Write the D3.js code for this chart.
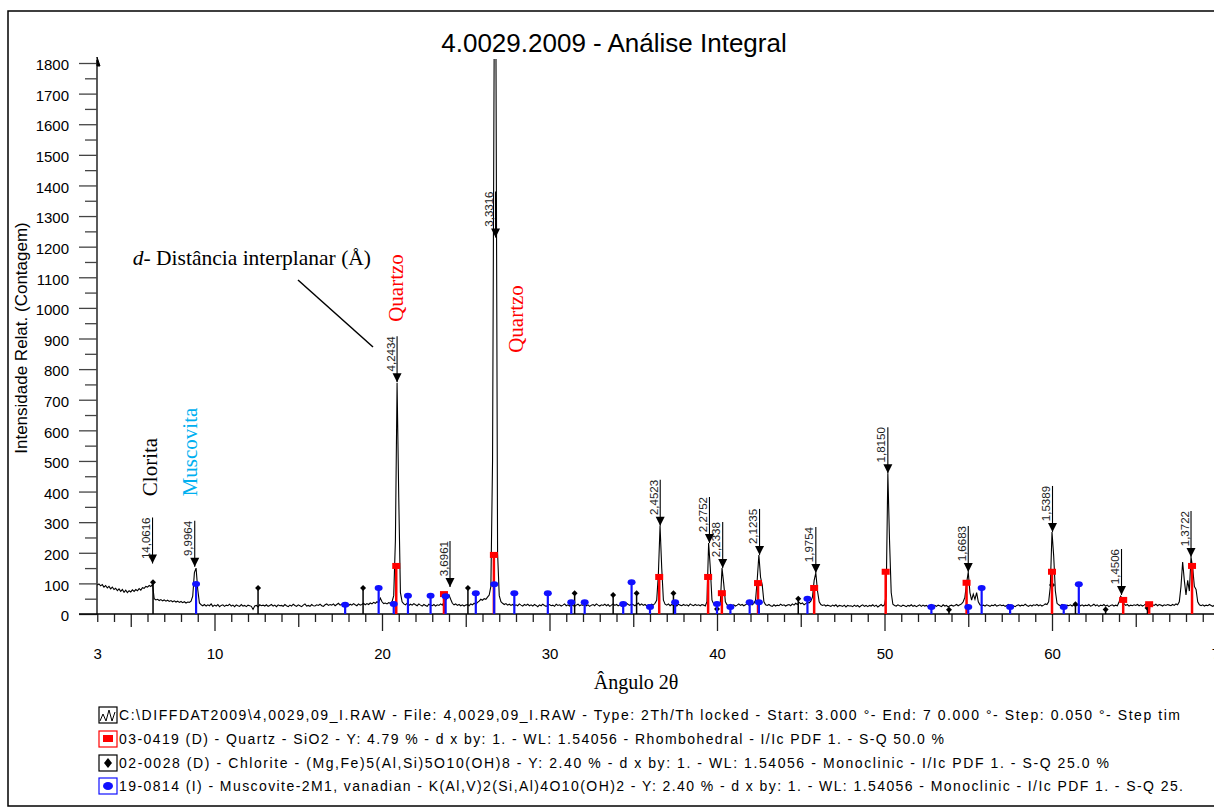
<!DOCTYPE html>
<html><head><meta charset="utf-8">
<script src="https://cdn.jsdelivr.net/npm/d3@7"></script>
<style>body{margin:0;background:#fff}svg{display:block}</style>
</head><body><svg id="c" width="1214" height="812"></svg>
<script>
// ---- DATA ----
const scanStart = 3.0, scanStep = 0.1;
const counts = [
/*3*/ 95,98,92,96,88,93,85,90,82,88,
/*4*/ 80,84,76,82,74,80,71,78,70,76,
/*5*/ 72,79,74,80,76,83,78,86,84,90,
/*6*/ 88,93,90,97,50,46,48,44,47,43,
/*7*/ 46,42,45,41,44,40,43,39,42,38,
/*8*/ 41,37,40,36,39,38,42,58,135,150,
/*9*/ 80,36,30,27,31,26,30,27,33,25,
/*10*/ 29,26,31,24,28,30,25,29,27,32,
/*11*/ 26,29,24,30,27,25,31,26,28,24,
/*12*/ 29,27,25,15,26,28,23,30,27,29,
/*13*/ 26,30,25,28,31,26,29,24,30,27,
/*14*/ 28,25,31,27,24,29,26,32,28,25,
/*15*/ 30,27,24,29,33,26,28,25,31,27,
/*16*/ 26,30,28,32,27,25,30,33,28,31,
/*17*/ 29,33,27,31,35,29,32,28,34,31,
/*18*/ 27,32,29,34,30,27,33,29,31,35,
/*19*/ 30,34,31,36,33,38,35,40,37,52,
/*20*/ 40,34,36,33,37,35,40,60,240,755,
/*21*/ 380,70,40,33,30,35,28,32,29,34,
/*22*/ 30,27,33,29,26,31,28,25,32,29,
/*23*/ 27,31,26,30,28,33,29,38,45,52,
/*24*/ 62,48,35,30,33,28,31,27,30,26,
/*25*/ 29,31,27,33,30,35,32,38,42,48,
/*26*/ 45,50,48,55,62,90,500,1900,1900,200,
/*27*/ 60,40,35,31,34,29,32,28,31,27,
/*28*/ 30,27,33,29,26,31,28,32,27,30,
/*29*/ 26,31,28,24,30,27,32,28,25,29,
/*30*/ 31,27,29,25,32,28,30,26,29,33,
/*31*/ 27,30,26,31,28,25,29,32,27,30,
/*32*/ 28,33,27,30,25,29,31,27,33,29,
/*33*/ 26,30,28,32,27,31,25,29,33,28,
/*34*/ 31,27,30,26,32,29,35,31,28,33,
/*35*/ 30,27,31,36,29,33,28,31,27,30,
/*36*/ 28,32,29,35,45,130,288,150,45,32,
/*37*/ 29,33,27,31,28,30,26,32,29,27,
/*38*/ 31,28,30,26,33,29,27,31,28,30,
/*39*/ 27,31,29,26,40,232,150,45,33,30,
/*40*/ 28,32,38,150,100,40,30,27,31,28,
/*41*/ 30,26,29,33,28,31,27,30,34,29,
/*42*/ 32,30,35,45,110,193,120,95,40,30,
/*43*/ 28,31,27,25,30,26,29,27,32,28,
/*44*/ 30,26,29,31,27,33,29,35,31,38,
/*45*/ 33,36,30,34,38,36,42,55,110,134,
/*46*/ 75,40,31,28,30,26,29,27,25,29,
/*47*/ 26,30,24,28,27,25,29,23,28,26,
/*48*/ 27,24,29,25,28,23,27,30,25,28,
/*49*/ 24,28,26,30,25,29,23,27,31,26,
/*50*/ 30,60,460,240,70,32,28,26,30,27,
/*51*/ 25,29,27,24,28,26,30,25,28,24,
/*52*/ 27,30,25,29,26,28,24,27,31,26,
/*53*/ 28,25,29,27,24,30,26,28,23,27,
/*54*/ 29,26,28,31,27,30,33,40,55,100,
/*55*/ 137,70,45,65,48,70,40,30,27,29,
/*56*/ 26,30,28,25,29,27,31,26,28,30,
/*57*/ 27,29,25,28,31,26,29,27,24,28,
/*58*/ 30,26,29,27,32,28,25,29,26,30,
/*59*/ 28,31,27,30,26,29,33,31,40,90,
/*60*/ 268,190,75,35,30,27,31,28,25,29,
/*61*/ 27,30,26,29,33,28,31,27,30,26,
/*62*/ 29,27,31,26,28,32,27,30,25,29,
/*63*/ 27,31,26,29,24,28,30,26,29,27,
/*64*/ 38,58,50,33,28,31,26,29,27,30,
/*65*/ 28,31,27,30,26,29,33,28,31,35,
/*66*/ 30,28,32,27,31,29,26,30,28,31,
/*67*/ 29,27,31,28,33,30,40,90,170,110,
/*68*/ 62,110,75,186,150,90,80,40,30,27,
/*69*/ 30,26,29,27,31,28,25,29,26,30,
/*70*/ 28
];

// reference pattern sticks [2theta, counts]
const quartzSticks = [[20.85,157],[23.7,65],[26.68,193],[36.55,121],[39.47,121],[40.29,68],[42.45,101],[45.8,85],[50.07,138],[54.9,102],[60.0,138],[64.25,46],[65.8,32],[68.36,157]];
const chloriteSticks = [[6.33,104],[12.6,85],[18.87,85],[25.13,85],[31.5,68],[33.8,62],[35.2,68],[37.4,68],[40.0,16],[44.85,50],[53.85,14],[60.0,95],[61.4,32],[63.2,15],[65.7,20]];
const muscoviteSticks = [[8.9,98],[17.8,30],[19.8,85],[20.7,33],[21.55,60],[22.9,60],[23.8,58],[25.6,68],[26.7,97],[27.9,68],[29.9,68],[31.3,38],[32.1,38],[34.4,33],[34.9,104],[36.0,23],[37.5,38],[40.0,33],[40.8,23],[41.95,38],[42.5,38],[45.4,50],[52.8,23],[55.0,23],[55.8,85],[57.5,23],[60.7,23],[61.6,97]];

// d-spacing peak labels: [label, 2theta, arrow tip counts]
const dLabels = [["14,0616",6.3,165],["9,9964",8.82,154],["4,2434",20.9,757],["3,6961",24.06,88],["3,3316",26.78,1230],["2,4523",36.61,288],["2,2752",39.55,232],["2,2338",40.34,150],["2,1235",42.54,193],["1,9754",45.9,134],["1,8150",50.2,460],["1,6683",55.0,137],["1,5389",60.03,268],["1,4506",64.15,62],["1,3722",68.3,186]];

const yTicks = d3.range(0, 1801, 100);
const yMinor = d3.range(50, 1800, 100);
const xLabelTicks = [3,10,20,30,40,50,60,70];

const title = "4.0029.2009 - Análise Integral";
const yTitle = "Intensidade Relat. (Contagem)";
const xTitle = "Ângulo 2θ";
const legendRows = [
  "C:\\DIFFDAT2009\\4,0029,09_I.RAW - File: 4,0029,09_I.RAW - Type: 2Th/Th locked - Start: 3.000 °- End: 7 0.000 °- Step: 0.050 °- Step tim",
  "03-0419 (D) - Quartz - SiO2 - Y: 4.79 % - d x by: 1. - WL: 1.54056 - Rhombohedral - I/Ic PDF 1. - S-Q 50.0 %",
  "02-0028 (D) - Chlorite - (Mg,Fe)5(Al,Si)5O10(OH)8 - Y: 2.40 % - d x by: 1. - WL: 1.54056 - Monoclinic - I/Ic PDF 1. - S-Q 25.0 %",
  "19-0814 (I) - Muscovite-2M1, vanadian - K(Al,V)2(Si,Al)4O10(OH)2 - Y: 2.40 % - d x by: 1. - WL: 1.54056 - Monoclinic - I/Ic PDF 1. - S-Q 25."
];
const legendWidths = [1061, 825, 990, 1064];

// ---- DRAW ----
const svg = d3.select('#c');
const x = d3.scaleLinear().domain([3, 70]).range([97.25, 1219.5]);
const y = d3.scaleLinear().domain([0, 1800]).range([614, 63]);
const RED = "#ff0000", BLUE = "#1010ff";

svg.append("rect").attr("x", 8).attr("y", 11).attr("width", 1240).attr("height", 795)
  .attr("fill", "none").attr("stroke", "#000").attr("stroke-width", 1.5);

svg.append("text").attr("x", 614).attr("y", 52).attr("text-anchor", "middle")
  .attr("font-family", "Liberation Sans, Arial, sans-serif").attr("font-size", 26).text(title);

// Y axis
const fontSans = "Liberation Sans, Arial, sans-serif";
const yAx = svg.append("g").attr("transform", "translate(97,0)")
  .call(d3.axisLeft(y).tickValues(yTicks).tickSize(18).tickPadding(10).tickFormat(d3.format("d")));
yAx.selectAll("text").attr("font-family", fontSans).attr("font-size", 15).attr("fill", "#000").attr("dy", "0.45em");
yAx.selectAll(".tick line").attr("stroke", "#444").attr("stroke-width", 1.3);
yAx.select(".domain").attr("stroke", "#000").attr("stroke-width", 1.3).attr("d", `M0,${y(0)}V${y(1800) - 3}`);
const yMin = svg.append("g").attr("transform", "translate(97,0)")
  .call(d3.axisLeft(y).tickValues(yMinor).tickSize(12).tickFormat(""));
yMin.select(".domain").remove();
yMin.selectAll(".tick line").attr("stroke", "#444").attr("stroke-width", 1.3);
svg.append("path").attr("d", `M97,${y(1800) - 6}L100,${y(1800) + 3}L97,${y(1800) + 3}Z`).attr("fill", "#000").attr("stroke", "#000");

// X axis
function xAxisLayer(vals, size) {
  const g = svg.append("g").attr("transform", `translate(0,${y(0)})`)
    .call(d3.axisBottom(x).tickValues(vals).tickSize(size).tickFormat(""));
  g.select(".domain").remove();
  g.selectAll(".tick line").attr("stroke", "#222").attr("stroke-width", 1.3);
}
xAxisLayer(d3.range(3, 71, 1).filter(v => v % 5 !== 0), 8);
xAxisLayer(d3.range(5, 71, 10), 13);
xAxisLayer(d3.range(10, 71, 10), 17);
const xl = svg.append("g").attr("transform", `translate(0,${y(0)})`)
  .call(d3.axisBottom(x).tickValues(xLabelTicks).tickSize(0).tickPadding(34).tickFormat(d3.format("d")));
xl.select(".domain").remove();
xl.selectAll("text").attr("font-family", fontSans).attr("font-size", 15).attr("fill", "#000");
svg.append("line").attr("x1", 79).attr("x2", 1219.5).attr("y1", y(0)).attr("y2", y(0))
  .attr("stroke", "#000").attr("stroke-width", 1.3);

// Pattern
svg.append("clipPath").attr("id", "pc").append("rect").attr("x", 97).attr("y", 59).attr("width", 1130).attr("height", 560);
const line = d3.line().x((d, i) => x(scanStart + i * scanStep)).y(d => y(d));
svg.append("path").datum(counts).attr("d", line).attr("clip-path", "url(#pc)")
  .attr("fill", "none").attr("stroke", "#000").attr("stroke-width", 1.1).attr("stroke-linejoin", "miter");

// Sticks
function sticks(data, color, w, marker) {
  const g = svg.append("g");
  g.selectAll("line").data(data).join("line")
    .attr("x1", d => x(d[0])).attr("x2", d => x(d[0]))
    .attr("y1", y(0)).attr("y2", d => y(d[1]))
    .attr("stroke", color).attr("stroke-width", w);
  marker(g.selectAll("m").data(data).enter());
}
sticks(chloriteSticks, "#000", 1.5, s => s.append("path")
  .attr("d", d => `M${x(d[0])},${y(d[1]) - 3}l3,3l-3,3l-3,-3z`).attr("fill", "#000"));
sticks(quartzSticks, RED, 2.5, s => s.append("rect")
  .attr("x", d => x(d[0]) - 4).attr("y", d => y(d[1]) - 3).attr("width", 8).attr("height", 6).attr("fill", RED));
sticks(muscoviteSticks, BLUE, 2.2, s => s.append("ellipse")
  .attr("cx", d => x(d[0])).attr("cy", d => y(d[1])).attr("rx", 4).attr("ry", 3).attr("fill", BLUE));

// d-spacing arrows
const arrowLen = 46;
const ag = svg.append("g");
dLabels.forEach(([lab, a, h]) => {
  const px = x(a), tip = y(h), top = tip - arrowLen;
  ag.append("line").attr("x1", px).attr("x2", px).attr("y1", top).attr("y2", tip)
    .attr("stroke", "#000").attr("stroke-width", 1.1);
  ag.append("path").attr("d", `M${px - 4.5},${tip - 9}L${px + 4.5},${tip - 9}L${px},${tip}Z`).attr("fill", "#000");
  ag.append("text").attr("transform", `translate(${px - 2.5},${top}) rotate(-90)`)
    .attr("text-anchor", "end").attr("font-family", fontSans).attr("font-size", 11.5).attr("fill", "#222").text(lab);
});

// Phase annotations
const serif = "Liberation Serif, Times New Roman, serif";
function vtext(tx, cx, cy, color) {
  svg.append("text").attr("transform", `translate(${cx},${cy}) rotate(-90)`)
    .attr("text-anchor", "middle").attr("font-family", serif).attr("font-size", 21).attr("fill", color).text(tx);
}
vtext("Clorita", 157, 467, "#000");
vtext("Muscovita", 197, 452, "#00b0f0");
vtext("Quartzo", 403, 288, RED);
vtext("Quartzo", 523, 319, RED);

const dt = svg.append("text").attr("x", 371).attr("y", 265).attr("text-anchor", "end")
  .attr("font-family", serif).attr("font-size", 21.5).attr("fill", "#000");
dt.append("tspan").attr("font-style", "italic").text("d");
dt.append("tspan").text("- Distância interplanar (Å)");
svg.append("line").attr("x1", 298).attr("y1", 280).attr("x2", 373).attr("y2", 347)
  .attr("stroke", "#000").attr("stroke-width", 1.5);

// Axis titles
svg.append("text").attr("transform", "translate(27,338) rotate(-90)").attr("text-anchor", "middle")
  .attr("font-family", fontSans).attr("font-size", 17).text(yTitle);
svg.append("text").attr("x", 636).attr("y", 689).attr("text-anchor", "middle")
  .attr("font-family", serif).attr("font-size", 20).text(xTitle);

// Legend
const lgBase = [720, 744, 768, 791];
const lg = svg.append("g");
legendRows.forEach((t, i) => {
  const by = lgBase[i];
  lg.append("text").attr("x", 119).attr("y", by).attr("font-family", fontSans).attr("font-size", 14)
    .attr("textLength", legendWidths[i]).attr("lengthAdjust", "spacing").text(t);
});
const bx = 99, bw = 18, bh = 16;
[["#000"], [RED], ["#000"], [BLUE]].forEach(([c], i) => {
  lg.append("rect").attr("x", bx).attr("y", lgBase[i] - 13).attr("width", bw).attr("height", bh)
    .attr("fill", "#fff").attr("stroke", c).attr("stroke-width", 1.2);
});
lg.append("path").attr("d", `M${bx + 1},${lgBase[0] + 1}L${bx + 4},${lgBase[0] - 6}L${bx + 7},${lgBase[0] + 1}L${bx + 10},${lgBase[0] - 10}L${bx + 13},${lgBase[0] + 1}L${bx + 16},${lgBase[0] - 8}`)
  .attr("fill", "none").attr("stroke", "#000").attr("stroke-width", 1);
lg.append("rect").attr("x", bx + 4).attr("y", lgBase[1] - 9).attr("width", 10).attr("height", 7).attr("fill", RED);
lg.append("path").attr("d", `M${bx + 9},${lgBase[2] - 10}l4,5l-4,5l-4,-5z`).attr("fill", "#000");
lg.append("ellipse").attr("cx", bx + 9).attr("cy", lgBase[3] - 5).attr("rx", 5).attr("ry", 4).attr("fill", BLUE);
</script></body></html>
